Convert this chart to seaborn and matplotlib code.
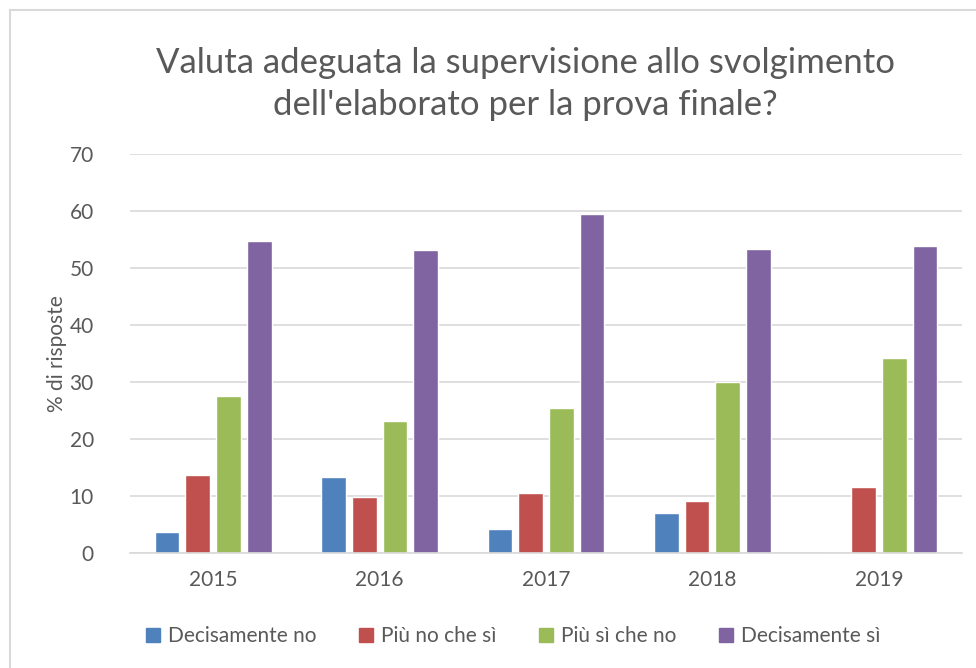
import pandas as pd
import matplotlib.pyplot as plt
import seaborn as sns
from matplotlib.lines import Line2D

# Data
years = ['2015', '2016', '2017', '2018', '2019']
responses = ['Decisamente no', 'Più no che sì', 'Più sì che no', 'Decisamente sì']
decisamente_no = [3.6, 13.3, 4.2, 7.0, 0.0]
piu_no_che_si = [13.6, 9.8, 10.5, 9.1, 11.5]
piu_si_che_no = [27.6, 23.1, 25.5, 30.0, 34.2]
decisamente_si = [54.8, 53.1, 59.4, 53.4, 53.8]

colors = ['#4f81bd', '#c0504d', '#9bbb59', '#8064a2']
text_color = '#595959'

rows = []
for resp, vals in zip(responses, [decisamente_no, piu_no_che_si, piu_si_che_no, decisamente_si]):
    for y, v in zip(years, vals):
        rows.append({'anno': y, 'risposta': resp, 'valore': v})
df = pd.DataFrame(rows)

sns.set_style('white')
plt.rcParams['font.family'] = ['Lato', 'DejaVu Sans']

fig = plt.figure(figsize=(9.76, 6.68), dpi=100)
ax = fig.add_axes([130 / 976, 1 - 553 / 668, 832 / 976, 399 / 668])

sns.barplot(data=df, x='anno', y='valore', hue='risposta', hue_order=responses,
            palette=colors, saturation=1, width=0.74, gap=0.2, ax=ax, legend=False)

ax.set_ylim(0, 70)
ax.set_yticks(range(0, 71, 10))
ax.yaxis.grid(True, color='#d9d9d9', linewidth=1.2)
ax.set_axisbelow(True)
for s in ['top', 'right', 'left']:
    ax.spines[s].set_visible(False)
ax.spines['bottom'].set_color('#d9d9d9')
ax.spines['bottom'].set_linewidth(1.2)
ax.tick_params(axis='both', length=0, labelsize=15, colors=text_color, pad=12)
ax.tick_params(axis='y', pad=26)
ax.set_xlabel('')
ax.set_ylabel('% di risposte', fontsize=15, color=text_color, labelpad=2)

fig.text(0.538, 1 - 84 / 668, 'Valuta adeguata la supervisione allo svolgimento\n'
         "dell'elaborato per la prova finale?",
         ha='center', va='center', fontsize=25, color=text_color, linespacing=1.35)

handles = [Line2D([], [], marker='s', linestyle='', markersize=10,
                  markerfacecolor=c, markeredgecolor=c) for c in colors]
fig.legend(handles, responses, loc='center', bbox_to_anchor=(0.524, 1 - 636 / 668),
           ncol=4, frameon=False, fontsize=15, labelcolor=text_color,
           handletextpad=0.2, columnspacing=1.9, handlelength=1.0)

# light outer border like the original chart frame
fig.add_artist(Line2D([10 / 976, 10 / 976], [0, 1 - 10 / 668], color='#d9d9d9', linewidth=1.5))
fig.add_artist(Line2D([10 / 976, 1], [1 - 10 / 668, 1 - 10 / 668], color='#d9d9d9', linewidth=1.5))

fig.savefig('out.png', dpi=100)
